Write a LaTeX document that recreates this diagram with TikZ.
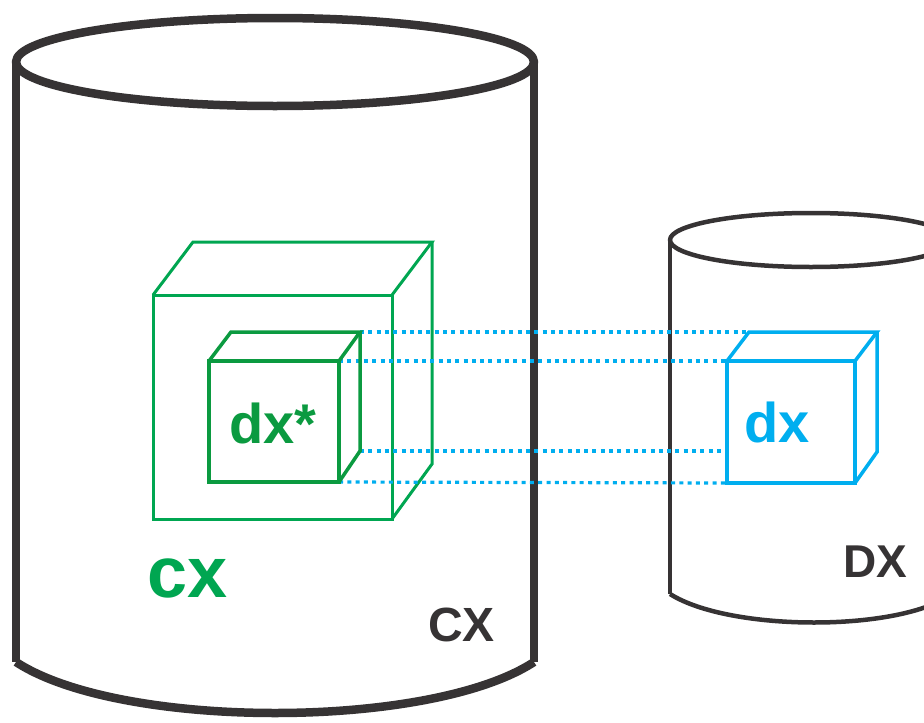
\documentclass[tikz,border=0pt]{standalone}
\usepackage{fontspec}
\setmainfont{Liberation Sans}
\definecolor{cylgray}{HTML}{363334}
\definecolor{gout}{HTML}{00A651}
\definecolor{gin}{HTML}{0B9A40}
\definecolor{cyanb}{HTML}{00AEEF}
\tikzset{
  cyl/.style={draw=cylgray, line width=8.5pt, line join=round},
  cylsmall/.style={draw=cylgray, line width=4.5pt, line join=round},
  outercube/.style={draw=gout, line width=3pt, line join=miter},
  innercube/.style={draw=gin, line width=3.5pt, line join=miter},
  bluecube/.style={draw=cyanb, line width=3.5pt, line join=miter},
  dotline/.style={draw=cyanb, line width=3.2pt, dash pattern=on 4pt off 4.3pt},
  lbl/.style={inner sep=0pt, anchor=base west, font=\bfseries},
}
\begin{document}
\begin{tikzpicture}[x=1pt,y=-1pt]
\useasboundingbox (0,0) rectangle (924,723);
% big cylinder
\draw[cyl] (275,62) ellipse [x radius=259, y radius=44];
\draw[cyl] (16,62) -- (16,662);
\draw[cyl] (534,62) -- (534,662);
\draw[cyl] (16,662) .. controls (120,730) and (430,730) .. (534,662);
% small cylinder
\draw[cylsmall] (811,240) ellipse [x radius=141, y radius=27];
\draw[cylsmall] (670,240) -- (670,594);
\draw[cylsmall] (670,594) .. controls (730,632) and (900,632) .. (952,594);
% outer green cube
\coordinate (oA) at (153,295);
\coordinate (oB) at (392,295);
\coordinate (oC) at (392,519);
\coordinate (oD) at (153,519);
\coordinate (oE) at (193,242);
\coordinate (oF) at (432,242);
\coordinate (oG) at (432,464);
\draw[outercube] (oA) -- (oB) -- (oC) -- (oD) -- cycle;
\draw[outercube] (oA) -- (oE) -- (oF) -- (oB);
\draw[outercube] (oF) -- (oG) -- (oC);
% inner green cube
\coordinate (iA) at (209,361);
\coordinate (iB) at (339,361);
\coordinate (iC) at (339,482);
\coordinate (iD) at (209,482);
\coordinate (iE) at (231,332);
\coordinate (iF) at (360,332);
\coordinate (iG) at (360,451);
% blue cube
\coordinate (bA) at (727,361);
\coordinate (bB) at (855,361);
\coordinate (bC) at (855,483);
\coordinate (bD) at (727,483);
\coordinate (bE) at (749,332);
\coordinate (bF) at (877,332);
\coordinate (bG) at (877,452);
% dotted connectors
\draw[dotline] (iF) -- (bE);
\draw[dotline] (iB) -- (bA);
\draw[dotline] (iG) -- (bA |- iG);
\draw[dotline] (iC) -- (bD);
\draw[innercube] (iA) -- (iB) -- (iC) -- (iD) -- cycle;
\draw[innercube] (iA) -- (iE) -- (iF) -- (iB);
\draw[innercube] (iF) -- (iG) -- (iC);
\draw[bluecube] (bA) -- (bB) -- (bC) -- (bD) -- cycle;
\draw[bluecube] (bA) -- (bE) -- (bF) -- (bB);
\draw[bluecube] (bF) -- (bG) -- (bC);
% labels
\node[lbl, text=gin, font=\bfseries\fontsize{56}{60}\selectfont] (dxs) at (229,443) {dx*};
\node[lbl, text=cyanb, font=\bfseries\fontsize{56}{60}\selectfont] (dx) at (744,442) {dx};
\node[lbl, text=gout, font=\bfseries\fontsize{72}{76}\selectfont] (cx) at (147,597) {cx};
\node[lbl, text=cylgray, font=\bfseries\fontsize{48}{52}\selectfont] (CX) at (428,641) {CX};
\node[lbl, text=cylgray, font=\bfseries\fontsize{46}{50}\selectfont] (DX) at (843,577) {DX};
\end{tikzpicture}
\end{document}
